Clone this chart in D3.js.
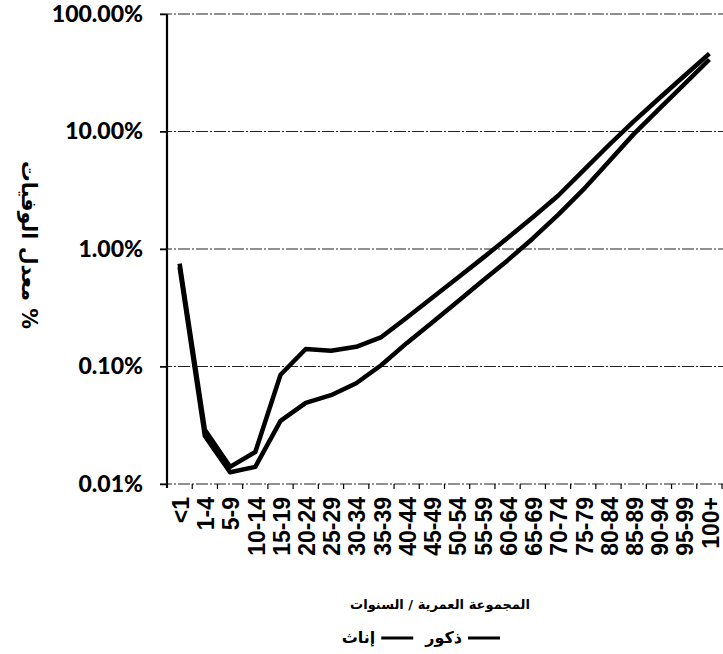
<!DOCTYPE html>
<html>
<head>
<meta charset="utf-8">
<script src="https://cdn.jsdelivr.net/npm/d3@7"></script>
<style>
  body { margin: 0; background: #fff; }
  svg { display: block; }
</style>
</head>
<body>
<svg id="chart" width="723" height="654"></svg>
<script>
const ages = ["<1", "1-4", "5-9", "10-14", "15-19", "20-24", "25-29", "30-34", "35-39",
  "40-44", "45-49", "50-54", "55-59", "60-64", "65-69", "70-74", "75-79", "80-84",
  "85-89", "90-94", "95-99", "100+"];

// mortality rate in percent
const males = [0.75, 0.029, 0.014, 0.0187, 0.085, 0.141, 0.136, 0.147, 0.178, 0.26,
  0.383, 0.563, 0.832, 1.24, 1.86, 2.84, 4.65, 7.6, 12.2, 19.1, 29.7, 46];
const females = [0.70, 0.0256, 0.0126, 0.014, 0.0344, 0.049, 0.057, 0.072, 0.103, 0.158,
  0.236, 0.354, 0.534, 0.80, 1.23, 1.95, 3.2, 5.5, 9.5, 15.5, 25.2, 41];

const yTicks = [0.01, 0.1, 1, 10, 100];

const yTitle = "% معدل الوفيات";
const xTitle = "المجموعة العمرية / السنوات";
const legendNames = ["ذكور", "إناث"];

const svg = d3.select("#chart");
const W = +svg.attr("width");

const plotLeft = 167, plotRight = 722, plotTop = 14, plotBottom = 484;

const x = d3.scaleBand().domain(ages).range([plotLeft, plotRight]);
const y = d3.scaleLog().domain([0.01, 100]).range([plotBottom, plotTop]);

const arabicFont = "'DejaVu Sans', sans-serif";

// gridlines
svg.append("g")
    .selectAll("line")
    .data(yTicks)
    .enter()
    .append("line")
    .attr("x1", plotLeft - 7)
    .attr("x2", W)
    .attr("y1", (d) => y(d))
    .attr("y2", (d) => y(d))
    .attr("stroke", "#222")
    .attr("stroke-width", 1.2)
    .attr("stroke-dasharray", "12,2,2,2");

// y axis
const yAxis = svg.append("g")
    .attr("transform", `translate(${plotLeft},0)`)
    .call(d3.axisLeft(y)
        .tickValues(yTicks)
        .tickSize(7)
        .tickPadding(17)
        .tickFormat((d) => d3.format(".2%")(d / 100)));

yAxis.select(".domain").remove();
yAxis.selectAll(".tick line").attr("stroke", "#000").attr("stroke-width", 1.5);
yAxis.selectAll(".tick text")
    .attr("fill", "#000")
    .style("font-family", "Lato, sans-serif")
    .style("font-weight", "900")
    .style("font-size", "23px");

svg.append("line")
    .attr("x1", plotLeft).attr("x2", plotLeft)
    .attr("y1", plotTop).attr("y2", plotBottom + 4)
    .attr("stroke", "#000")
    .attr("stroke-width", 2.2);

// x axis: boundary ticks + rotated labels
const bounds = ages.map((a) => x(a)).concat([plotRight]);
svg.append("g")
    .selectAll("line")
    .data(bounds.slice(1))
    .enter()
    .append("line")
    .attr("x1", (d) => d).attr("x2", (d) => d)
    .attr("y1", plotBottom).attr("y2", plotBottom + 5)
    .attr("stroke", "#000")
    .attr("stroke-width", 1.2);

const xAxis = svg.append("g")
    .attr("transform", `translate(0,${plotBottom})`)
    .call(d3.axisBottom(x).tickSize(0).tickPadding(0));

xAxis.select(".domain").remove();
xAxis.selectAll(".tick text")
    .attr("fill", "#000")
    .attr("transform", "translate(1,13) rotate(-90)")
    .attr("x", 0)
    .attr("y", 0)
    .attr("dy", "0.36em")
    .attr("text-anchor", "end")
    .style("font-family", "'Liberation Sans', Arial, sans-serif")
    .style("font-weight", "bold")
    .style("font-size", "23px");

// lines
const line = d3.line()
    .x((d, i) => x(ages[i]) + x.bandwidth() / 2)
    .y((d) => y(d));

[males, females].forEach((series) => {
    svg.append("path")
        .datum(series)
        .attr("fill", "none")
        .attr("stroke", "#000")
        .attr("stroke-width", 4.5)
        .attr("stroke-linejoin", "round")
        .attr("d", line);
});

// fit a label to a target width
function fitText(sel, target) {
    const len = sel.node().getComputedTextLength();
    const fs = parseFloat(sel.style("font-size"));
    sel.style("font-size", (fs * target / len) + "px");
}

// y title
const yt = svg.append("text")
    .attr("transform", "translate(22,245) rotate(90)")
    .attr("text-anchor", "middle")
    .attr("direction", "rtl")
    .style("font-family", arabicFont)
    .style("font-weight", "bold")
    .style("font-size", "18px")
    .text(yTitle);
fitText(yt, 168);

// x title
const xt = svg.append("text")
    .attr("x", 440)
    .attr("y", 609)
    .attr("text-anchor", "middle")
    .attr("direction", "rtl")
    .style("font-family", arabicFont)
    .style("font-weight", "bold")
    .style("font-size", "15px")
    .text(xTitle);
fitText(xt, 180);

// legend (right to left: symbol then name)
const legend = svg.append("g");
let lx = 500;
legendNames.forEach((name) => {
    legend.append("line")
        .attr("x1", lx - 32).attr("x2", lx)
        .attr("y1", 638).attr("y2", 638)
        .attr("stroke", "#000")
        .attr("stroke-width", 3);
    const t = legend.append("text")
        .attr("x", lx - 38)
        .attr("y", 643)
        .attr("text-anchor", "end")
        .style("font-family", arabicFont)
        .style("font-weight", "bold")
        .style("font-size", "16px")
        .text(name);
    lx = lx - 38 - t.node().getComputedTextLength() - 12;
});
</script>
</body>
</html>
